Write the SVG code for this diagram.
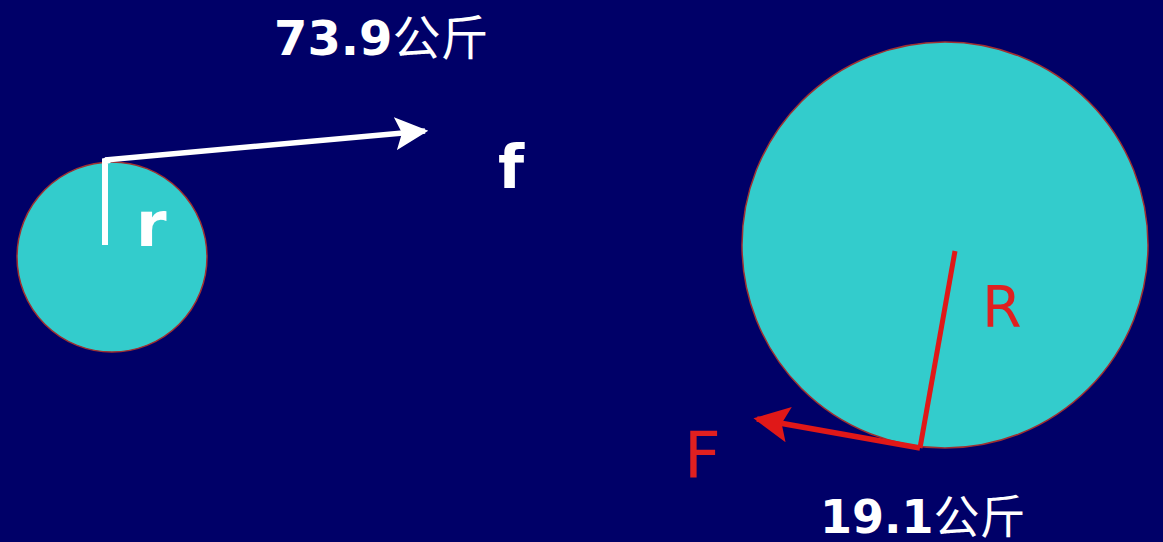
<svg xmlns="http://www.w3.org/2000/svg" width="1163" height="542" viewBox="0 0 1163 542">
<style>
.ball{fill:#33CCCC;stroke:#A03030;stroke-width:1.5}
.lbl{font-family:"DejaVu Sans","Noto Sans CJK SC",sans-serif;font-weight:bold;fill:#FFFFFF}
.cjk{font-weight:normal}
.red{font-family:"DejaVu Sans",sans-serif;fill:#E02020}
</style>
<defs>
<marker id="wh" viewBox="0 0 10 10" refX="9" refY="5" markerWidth="6" markerHeight="6" markerUnits="strokeWidth" orient="auto"><path d="M0,0 L10,5 L0,10 L2,5 z" fill="#FFFFFF"/></marker>
<marker id="rh" viewBox="0 0 10 10" refX="9" refY="5" markerWidth="7" markerHeight="6.5" markerUnits="strokeWidth" orient="auto"><path d="M0,0 L10,5 L0,10 L2,5 z" fill="#E01818"/></marker>
</defs>
<rect width="1163" height="542" fill="#000068"/>
<g id="small-wheel"><circle class="ball" cx="112" cy="257" r="95"/></g>
<g id="big-wheel"><circle class="ball" cx="945" cy="245" r="203"/></g>
<g id="connectors">
<polyline points="105,245 105,161 110,160" fill="none" stroke="#FFFFFF" stroke-width="6"/>
<line x1="105" y1="160" x2="425" y2="131" stroke="#FFFFFF" stroke-width="5.5" marker-end="url(#wh)"/>
<line x1="955" y1="251" x2="920" y2="448" stroke="#E01818" stroke-width="5"/>
<line x1="920" y1="448" x2="757" y2="419" stroke="#E01818" stroke-width="5.5" marker-end="url(#rh)"/>
</g>
<g id="labels">
<text class="lbl" x="274" y="55" font-size="48">73.9<tspan class="cjk">公斤</tspan></text>
<text class="lbl" x="136" y="246" font-size="62">r</text>
<text class="lbl" x="498" y="188" font-size="60">f</text>
<text class="red" x="982" y="327" font-size="57">R</text>
<text class="red" x="684" y="477" font-size="64">F</text>
<text class="lbl" x="820" y="533" font-size="46">19.1<tspan class="cjk">公斤</tspan></text>
</g>
</svg>
